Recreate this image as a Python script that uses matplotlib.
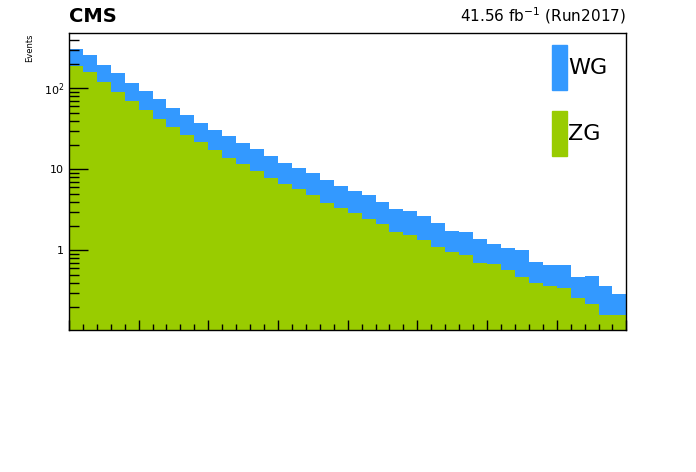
import numpy as np
import matplotlib.pyplot as plt
from matplotlib.patches import Rectangle
from matplotlib.ticker import FixedLocator, NullFormatter, LogLocator

# per-bin yields (40 bins)
zg = [190, 160, 121, 90.9, 69.7, 54.0, 41.8, 33.3, 26.5, 21.7,
      17.3, 13.8, 11.6, 9.53, 7.81, 6.59, 5.71, 4.82, 3.84, 3.33,
      2.89, 2.43, 2.11, 1.68, 1.55, 1.34, 1.10, 0.953, 0.875, 0.697,
      0.677, 0.571, 0.468, 0.395, 0.362, 0.343, 0.258, 0.217, 0.159, 0.159]
wg = [113, 98, 73, 64, 46, 38.6, 32, 23.8, 20.3, 15.6,
      13.2, 12.0, 9.5, 8.27, 6.79, 5.41, 4.69, 4.18, 3.54, 2.89,
      2.51, 2.39, 1.84, 1.56, 1.51, 1.31, 1.07, 0.777, 0.805, 0.683,
      0.523, 0.499, 0.542, 0.322, 0.297, 0.316, 0.21, 0.265, 0.203, 0.13]
labels = ['WG', 'ZG']
lumi_text = r'41.56 fb$^{-1}$ (Run2017)'

BLUE = '#3399ff'
GREEN = '#99cc00'

fig = plt.figure(figsize=(6.96, 4.72), dpi=100)
ax = fig.add_axes([0.099, 0.301, 0.801, 0.629])

edges = np.arange(len(zg))
ax.bar(edges, zg, width=1.0, align='edge', color=GREEN, linewidth=0)
ax.bar(edges, wg, width=1.0, align='edge', bottom=zg, color=BLUE, linewidth=0)

ax.set_yscale('log')
ax.set_ylim(0.104, 482)
ax.set_xlim(0, len(zg))

ax.xaxis.set_major_locator(FixedLocator(np.arange(0, 41, 5)))
ax.xaxis.set_minor_locator(FixedLocator(np.arange(0, 41, 1)))
ax.xaxis.set_major_formatter(NullFormatter())
ax.yaxis.set_major_locator(LogLocator(base=10))
ax.yaxis.set_minor_locator(LogLocator(base=10, subs=np.arange(2, 10)))
ax.yaxis.set_minor_formatter(NullFormatter())
ax.tick_params(which='both', direction='in', labelsize=8)
ax.tick_params(which='major', length=14, width=1)
ax.tick_params(which='minor', length=7, width=1)
ax.tick_params(axis='x', which='major', length=7)
ax.tick_params(axis='x', which='minor', length=4)
ax.set_yticks([1, 10, 100])
ax.set_yticklabels(['1', '10', r'10$^{2}$'])
for s in ax.spines.values():
    s.set_linewidth(1)

fig.text(0.043, 0.93, 'Events', rotation=90, ha='center', va='top', fontsize=6)
fig.text(0.099, 0.945, 'CMS', fontsize=14, fontweight='bold', ha='left', va='bottom')
fig.text(0.900, 0.945, lumi_text, fontsize=11, ha='right', va='bottom')

# legend boxes in ROOT style
for i, (lab, col) in enumerate(zip(labels, [BLUE, GREEN])):
    y0 = 1 - (90 + i * 66) / 472
    fig.patches.append(Rectangle((552 / 696, y0), 15 / 696, 45 / 472,
                                 transform=fig.transFigure, color=col))
    fig.text(568 / 696, y0 + 22 / 472, lab, fontsize=16, ha='left', va='center')

fig.savefig('out.png', dpi=100)
